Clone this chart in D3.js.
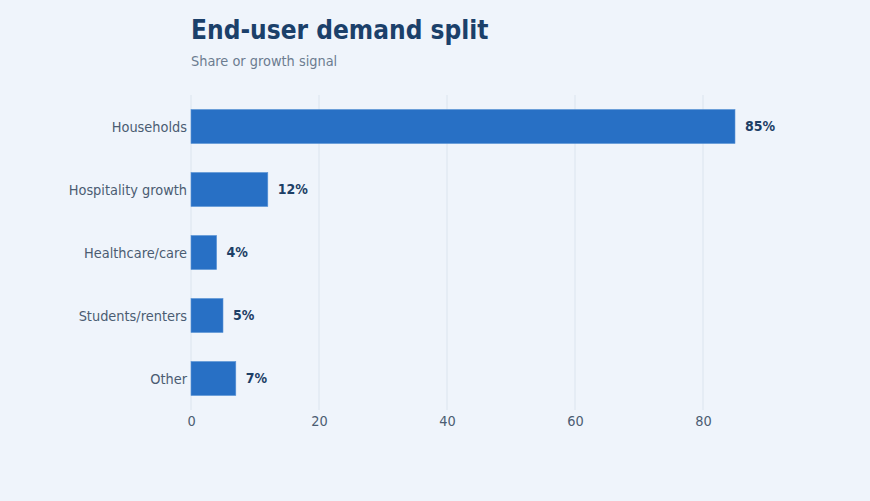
<!DOCTYPE html>
<html>
<head>
<meta charset="utf-8">
<script src="https://cdn.jsdelivr.net/npm/d3@7"></script>
<style>
  html, body { margin: 0; padding: 0; background: #eff4fb; }
  body { font-family: "DejaVu Sans Condensed", "DejaVu Sans", sans-serif; }
</style>
</head>
<body>
<div id="chart"></div>
<script>
// End-user demand split - horizontal bar chart

const categories = ['Households', 'Hospitality growth', 'Healthcare/care', 'Students/renters', 'Other'];
const values = [85, 12, 4, 5, 7];
const xTicks = [0, 20, 40, 60, 80];

const width = 870;
const height = 501;
const margin = { top: 95, right: 135, bottom: 91, left: 191 };
const fontStack = '"DejaVu Sans Condensed", "DejaVu Sans", sans-serif';

const svg = d3.select('#chart').append('svg')
    .attr('width', width)
    .attr('height', height);

svg.append('rect')
    .attr('width', width)
    .attr('height', height)
    .attr('fill', '#eff4fb');

// Title + subtitle
svg.append('text')
    .attr('x', margin.left)
    .attr('y', 39)
    .attr('fill', '#1b406a')
    .attr('font-size', 26)
    .attr('font-weight', 'bold')
    .text('End-user demand split');

svg.append('text')
    .attr('x', margin.left)
    .attr('y', 66)
    .attr('fill', '#6c7c90')
    .attr('font-size', 14.4)
    .text('Share or growth signal');

const x = d3.scaleLinear()
    .domain([0, 85])
    .range([margin.left, width - margin.right]);

const y = d3.scaleBand()
    .domain(categories)
    .range([margin.top, height - margin.bottom])
    .paddingInner(0.46)
    .paddingOuter(0.23);

// Gridlines
svg.append('g')
    .selectAll('line')
    .data(xTicks)
    .enter()
    .append('line')
    .attr('x1', d => x(d))
    .attr('x2', d => x(d))
    .attr('y1', margin.top)
    .attr('y2', height - margin.bottom)
    .attr('stroke', '#dbe4ee')
    .attr('stroke-width', 1);

// X axis
const xAxis = svg.append('g')
    .attr('transform', `translate(0,${height - margin.bottom})`)
    .call(d3.axisBottom(x).tickValues(xTicks).tickSize(0).tickPadding(6));
xAxis.select('.domain').remove();
xAxis.selectAll('text')
    .attr('fill', '#4b5c72')
    .attr('font-size', 14.4)
    .attr('font-family', fontStack);

// Y axis
const yAxis = svg.append('g')
    .attr('transform', `translate(${margin.left},0)`)
    .call(d3.axisLeft(y).tickSize(0).tickPadding(4));
yAxis.select('.domain').remove();
yAxis.selectAll('text')
    .attr('fill', '#4b5c72')
    .attr('font-size', 14.4)
    .attr('dy', '0.38em')
    .attr('font-family', fontStack);

// Bars
svg.append('g')
    .selectAll('rect')
    .data(categories)
    .enter()
    .append('rect')
    .attr('x', x(0))
    .attr('y', d => y(d))
    .attr('width', (d, i) => x(values[i]) - x(0))
    .attr('height', y.bandwidth())
    .attr('fill', '#2870c5')
    .attr('stroke', '#5a93d6')
    .attr('stroke-width', 0.6);

// Value labels
svg.append('g')
    .selectAll('text')
    .data(categories)
    .enter()
    .append('text')
    .attr('x', (d, i) => x(values[i]) + 10)
    .attr('y', d => y(d) + y.bandwidth() / 2)
    .attr('dy', '0.3em')
    .attr('fill', '#1d3f66')
    .attr('font-size', 14)
    .attr('font-weight', 'bold')
    .text((d, i) => values[i] + '%');
</script>
</body>
</html>
